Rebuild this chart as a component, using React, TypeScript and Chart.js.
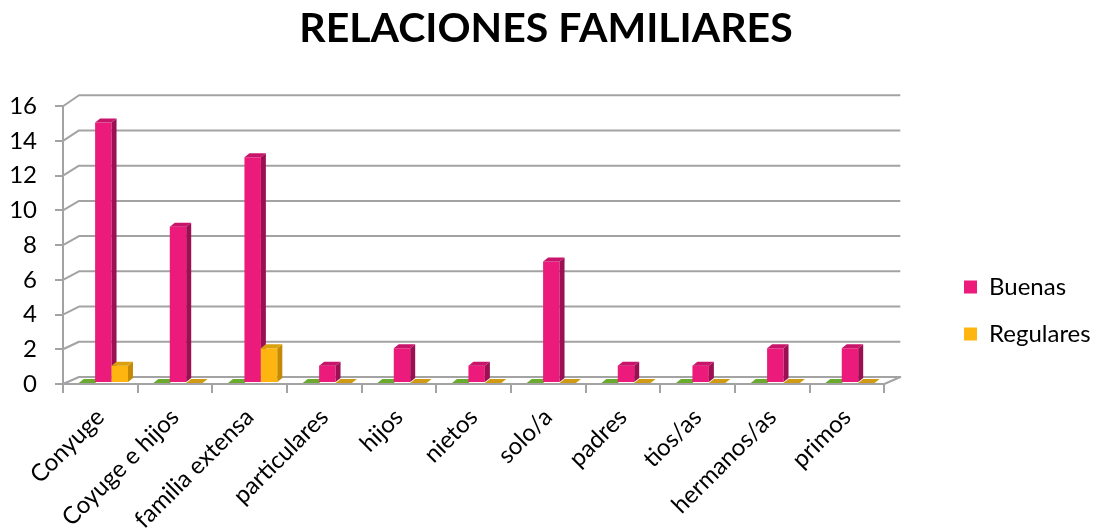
import React, { useEffect, useRef } from 'react';
import { Chart, registerables } from 'chart.js';

Chart.register(...registerables);

// ---- data ----
const categories = ['Conyuge', 'Coyuge e hijos', 'familia extensa', 'particulares', 'hijos', 'nietos', 'solo/a', 'padres', 'tios/as', 'hermanos/as', 'primos'];
const malas = [0, 0, 0, 0, 0, 0, 0, 0, 0, 0, 0];
const buenas = [15, 9, 13, 1, 2, 1, 7, 1, 1, 2, 2];
const regulares = [1, 0, 2, 0, 0, 0, 0, 0, 0, 0, 0];
const seriesNames = ['Malas', 'Buenas', 'Regulares'];
const yMin = 0;
const yMax = 16;
const yStep = 2;

// ---- styles ----
const FONT = 'Lato, "Open Sans", sans-serif';
const frontColors = ['#6aaa2e', '#eb1a7b', '#ffb50f'];
const sideColors = ['#4e8a1e', '#9c0f52', '#c48a05'];
const topColors = ['#79b63a', '#c8146a', '#d9a010'];
const GRID = '#a3a3a3';
const WALL_DX = 16;
const WALL_DY_BOTTOM = -7;
const WALL_DY_TOP = -11;
const BAR_DX = 5;
const BAR_DY = -4;
const BAR_SHIFT_X = 3;
const LEGEND_LEFT = 941;
const LEGEND_SHIFT_Y = 45;
const TITLE_CENTER = 546;

const threeD = {
  id: 'threeD',
  afterLayout(chart: any) {
    const lg = chart.legend;
    if (lg) {
      const dx = LEGEND_LEFT - lg.left;
      lg.left += dx;
      lg.right += dx;
      lg.top += LEGEND_SHIFT_Y;
      lg.bottom += LEGEND_SHIFT_Y;
    }
    const tb = chart.titleBlock;
    if (tb) {
      const s = TITLE_CENTER - (tb.left + tb.right) / 2;
      tb.left += s;
      tb.right += s;
    }
  },
  beforeDatasetsDraw(chart: any) {
    const { ctx, chartArea } = chart;
    const ys = chart.scales.y;
    const { left, right, top, bottom } = chartArea;
    ctx.save();
    ctx.strokeStyle = GRID;
    ctx.lineWidth = 2;
    ctx.lineJoin = 'round';
    for (let v = yMin; v <= yMax; v += yStep) {
      const y = ys.getPixelForValue(v);
      const frac = (bottom - y) / (bottom - top);
      const dy = WALL_DY_BOTTOM + (WALL_DY_TOP - WALL_DY_BOTTOM) * frac;
      ctx.beginPath();
      ctx.moveTo(left, y);
      ctx.lineTo(left + WALL_DX, y + dy);
      ctx.lineTo(right + WALL_DX, y + dy);
      if (v === yMin) ctx.lineTo(right, y);
      ctx.stroke();
    }
    ctx.restore();
  },
  beforeDatasetDraw() {
    return false;
  },
  afterDatasetsDraw(chart: any) {
    const { ctx } = chart;
    const metas = chart.data.datasets.map((_: any, i: number) => chart.getDatasetMeta(i));
    ctx.save();
    for (let c = 0; c < categories.length; c++) {
      for (let d = 0; d < metas.length; d++) {
        const el = metas[d].data[c];
        if (!el) continue;
        const p = el.getProps(['x', 'y', 'base', 'width'], true);
        const l = p.x - p.width / 2 + BAR_SHIFT_X;
        const r = p.x + p.width / 2 + BAR_SHIFT_X;
        const t = Math.min(p.y, p.base) - 1;
        const b = p.base - 1;
        if (b - t > 0.5) {
          ctx.fillStyle = frontColors[d];
          ctx.fillRect(l, t, r - l, b - t);
          ctx.fillStyle = sideColors[d];
          ctx.beginPath();
          ctx.moveTo(r, t);
          ctx.lineTo(r + BAR_DX, t + BAR_DY);
          ctx.lineTo(r + BAR_DX, b + BAR_DY);
          ctx.lineTo(r, b);
          ctx.closePath();
          ctx.fill();
        }
        ctx.fillStyle = b - t > 0.5 ? topColors[d] : (d === 2 ? '#d09a12' : frontColors[d]);
        ctx.beginPath();
        ctx.moveTo(l, t);
        ctx.lineTo(l + BAR_DX, t + BAR_DY);
        ctx.lineTo(r + BAR_DX, t + BAR_DY);
        ctx.lineTo(r, t);
        ctx.closePath();
        ctx.fill();
      }
    }
    ctx.restore();
  },
};

export default function App() {
  const ref = useRef<HTMLCanvasElement | null>(null);
  useEffect(() => {
    if (!ref.current) return;
    const series = [malas, buenas, regulares];
    const chart = new Chart(ref.current, {
      type: 'bar',
      data: {
        labels: categories,
        datasets: series.map((s, i) => ({
          label: seriesNames[i],
          data: s,
          backgroundColor: frontColors[i],
          borderWidth: 0,
          categoryPercentage: 0.66,
          barPercentage: 1,
        })),
      },
      options: {
        animation: false,
        responsive: true,
        maintainAspectRatio: false,
        layout: { padding: { left: 0, right: 61, top: 0, bottom: 0 } },
        plugins: {
          title: {
            display: true,
            text: 'RELACIONES FAMILIARES',
            color: '#000',
            font: { family: FONT, size: 41, weight: 'bold' },
            padding: { top: 4, bottom: 53 },
          },
          legend: {
            position: 'right',
            labels: {
              filter: (item: any) => item.text !== 'Malas',
              color: '#000',
              font: { family: FONT, size: 24 },
              boxWidth: 13,
              boxHeight: 13,
              padding: 23,
            },
          },
          tooltip: { enabled: false },
        },
        scales: {
          x: {
            afterFit: (scale: any) => {
              scale.paddingLeft = 0;
              scale.paddingRight = 0;
              scale.height = 147;
            },
            grid: { offset: true, drawOnChartArea: false, drawTicks: true, tickLength: 9, color: GRID, lineWidth: 2 },
            border: { display: true, color: GRID, width: 2 },
            ticks: { autoSkip: false, minRotation: 45, maxRotation: 45, color: '#000', font: { family: FONT, size: 24 }, padding: 10 },
          },
          y: {
            min: yMin,
            max: yMax,
            afterFit: (scale: any) => {
              scale.width = 63;
            },
            grid: { drawOnChartArea: false, drawTicks: true, tickLength: 8, color: GRID, lineWidth: 2 },
            border: { display: true, color: GRID, width: 2 },
            ticks: { stepSize: yStep, color: '#000', font: { family: FONT, size: 24 }, padding: 18 },
          },
        },
      },
      plugins: [threeD],
    });
    return () => chart.destroy();
  }, []);
  return (
    <div style={{ position: 'absolute', left: 0, top: 0, width: 1105, height: 531, background: '#fff' }}>
      <canvas ref={ref} />
    </div>
  );
}
